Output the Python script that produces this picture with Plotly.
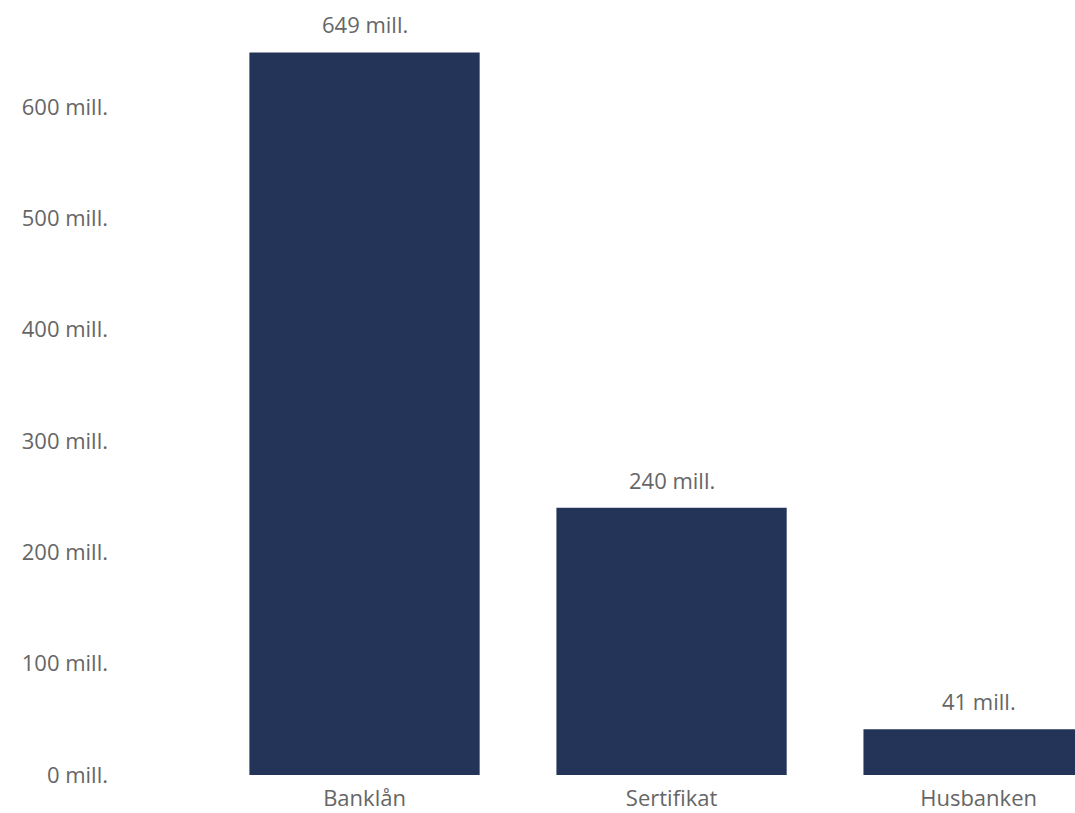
import plotly.graph_objects as go

categories = ["Banklån", "Sertifikat", "Husbanken"]
values = [649, 240, 41]
value_labels = ["649 mill.", "240 mill.", "41 mill."]
y_tick_values = [0, 100, 200, 300, 400, 500, 600]
y_tick_labels = ["0 mill.", "100 mill.", "200 mill.", "300 mill.", "400 mill.", "500 mill.", "600 mill."]

bar_color = "#243459"
text_color = "#666666"
font_family = "Open Sans, Noto Sans, sans-serif"
fs = 22

fig = go.Figure()
fig.add_trace(go.Bar(
    x=categories,
    y=values,
    marker=dict(color=bar_color, line=dict(width=0)),
    hoverinfo="skip",
))

for c, v, t in zip(categories, values, value_labels):
    fig.add_annotation(
        x=c, y=v, text=t, showarrow=False,
        yanchor="bottom", yshift=11,
        font=dict(family=font_family, size=fs, color=text_color),
    )

fig.update_layout(
    width=1075, height=813,
    margin=dict(l=115, r=0, t=10, b=38),
    paper_bgcolor="white", plot_bgcolor="white",
    bargap=0.25,
    showlegend=False,
    font=dict(family=font_family, size=fs, color=text_color),
    xaxis=dict(
        range=[-0.8127, 2.314],
        showgrid=False, zeroline=False, showline=False,
        ticks="", tickfont=dict(size=fs, color=text_color),
        ticklabelstandoff=8,
        fixedrange=True,
    ),
    yaxis=dict(
        range=[0, 687.1],
        tickmode="array",
        tickvals=y_tick_values,
        ticktext=y_tick_labels,
        showgrid=False, zeroline=False, showline=False,
        ticks="", tickfont=dict(size=fs, color=text_color),
        ticklabelstandoff=6,
        fixedrange=True,
    ),
)

fig.write_html("out.html")
